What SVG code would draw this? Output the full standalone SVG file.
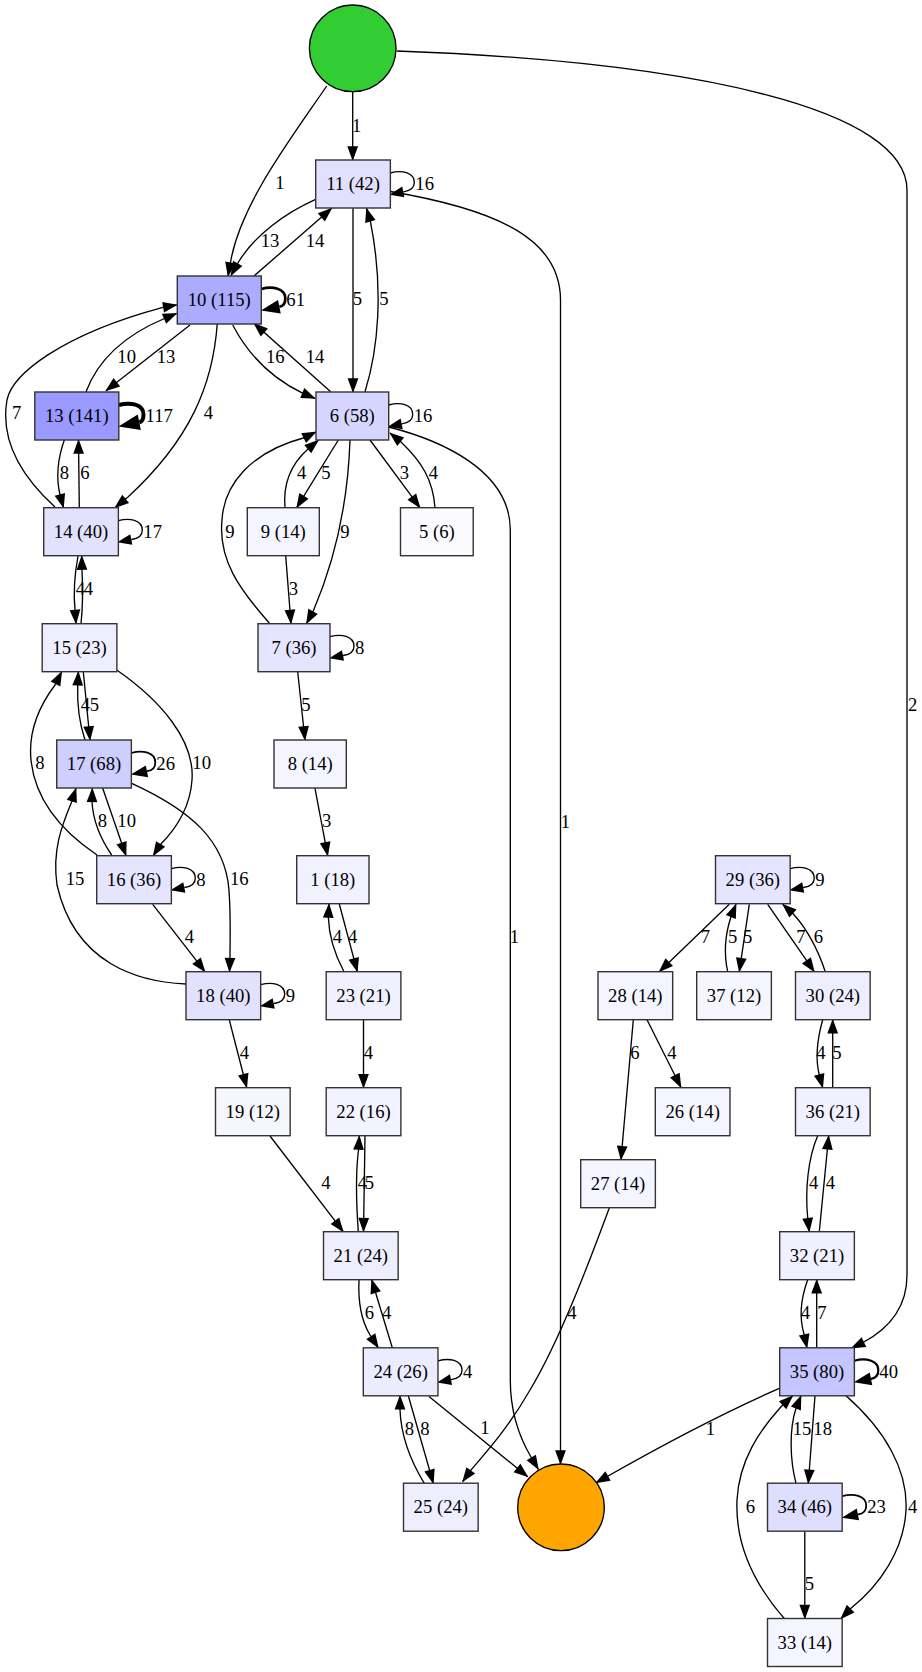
<svg xmlns="http://www.w3.org/2000/svg" width="922" height="1672" viewBox="0 0 922 1672">
<defs>
<style>
text { font-family: "Liberation Serif", "Times New Roman", serif; font-size: 18.67px; fill: #000; }
.node rect { stroke: #333; stroke-width: 1.4; }
.node circle { stroke: #000; stroke-width: 1.33; }
.node text { text-anchor: middle; }
.edge path { fill: none; stroke: #000; stroke-width: 1.33; marker-end: url(#ah); }
.edge text { text-anchor: middle; }
.loop path { fill: none; stroke: #000; stroke-width: 1.33; marker-end: url(#l1); }
.loop text { text-anchor: start; }
.loop.w2 path { stroke-width: 1.8; marker-end: url(#l2); }
.loop.w3 path { stroke-width: 2.2; marker-end: url(#l3); }
.loop.w4 path { stroke-width: 2.7; marker-end: url(#l4); }
.loop.w5 path { stroke-width: 4; marker-end: url(#l5); }
</style>
<!-- arrowheads: tip sits at the path end for ordinary edges, base sits at the path end for loops -->
<marker id="ah" markerUnits="userSpaceOnUse" orient="auto" refX="13.3" refY="0" markerWidth="15" markerHeight="12" overflow="visible"><path d="M-0.5,-5.4 L14.2,0 L-0.5,5.4 z" fill="#000"/></marker>
<marker id="l1" markerUnits="userSpaceOnUse" orient="auto" refX="0" refY="0" markerWidth="15" markerHeight="12" overflow="visible"><path d="M0,-5.4 L14.2,0 L0,5.4 z" fill="#000"/></marker>
<marker id="l2" markerUnits="userSpaceOnUse" orient="auto" refX="0" refY="0" markerWidth="17" markerHeight="13" overflow="visible"><path d="M0,-6 L16.5,0 L0,6 z" fill="#000"/></marker>
<marker id="l3" markerUnits="userSpaceOnUse" orient="auto" refX="0" refY="0" markerWidth="18" markerHeight="14" overflow="visible"><path d="M0,-6.5 L17.5,0 L0,6.5 z" fill="#000"/></marker>
<marker id="l4" markerUnits="userSpaceOnUse" orient="auto" refX="0" refY="0" markerWidth="19" markerHeight="15" overflow="visible"><path d="M0,-7 L18.8,0 L0,7 z" fill="#000"/></marker>
<marker id="l5" markerUnits="userSpaceOnUse" orient="auto" refX="0" refY="0" markerWidth="22" markerHeight="17" overflow="visible"><path d="M0,-8 L21.3,0 L0,8 z" fill="#000"/></marker>
</defs>
<rect x="0" y="0" width="922" height="1672" fill="#fff"/>

<!-- connectors -->
<g id="connectors">
<g class="edge" id="e_start_11"><path d="M352.7,91.6 L352.7,160"/><text x="356.7" y="132">1</text></g>
<g class="edge" id="e_start_10"><path d="M326.7,86 C290,140 240,205 230.5,262.5 L228,276"/><text x="280" y="189">1</text></g>
<g class="edge" id="e_start_35"><path d="M396.7,51 C700,62 907,110 907,190 L907,1275 C907,1305 892,1327 863,1342.5 L851.5,1348"/><text x="912.7" y="711">2</text></g>
<g class="edge" id="e_11_10"><path d="M315.7,199.3 C285,213 255,235 238.5,262 L231,275.5"/><text x="270" y="246.7">13</text></g>
<g class="edge" id="e_10_11"><path d="M254,276 L331.7,208.3"/><text x="315" y="246.7">14</text></g>
<g class="edge" id="e_11_6"><path d="M353,208.3 L353,392"/><text x="357.3" y="305.3">5</text></g>
<g class="edge" id="e_6_11"><path d="M365,391.7 C378,350 384,290 370.5,222 L366.5,208.3"/><text x="384" y="305.3">5</text></g>
<g class="edge" id="e_11_end"><path d="M390.3,191.5 C500,210 560.5,240 560.5,300 L560.5,1464"/><text x="565.3" y="827.7">1</text></g>
<g class="edge" id="e_10_13"><path d="M190,325 L106,390.7"/><text x="166" y="363.3">13</text></g>
<g class="edge" id="e_13_10"><path d="M86,391.7 C98,360 125,335 164.5,318.5 L176.7,313.3"/><text x="126.7" y="363.3">10</text></g>
<g class="edge" id="e_14_10"><path d="M55,507 C20,475 0,440 7,400 C12,375 60,335 163,307.3 L176.7,305"/><text x="16.7" y="419.3">7</text></g>
<g class="edge" id="e_10_14"><path d="M217.3,323.3 C213,385 190,440 128,497 L115,507.7"/><text x="208.3" y="419.3">4</text></g>
<g class="edge" id="e_10_6"><path d="M232.7,325 C250,358 275,380 303,393.3 L315,398.3"/><text x="275.3" y="363.3">16</text></g>
<g class="edge" id="e_6_10"><path d="M330.7,391.7 L254,323.3"/><text x="315" y="363.3">14</text></g>
<g class="edge" id="e_13_14"><path d="M64.3,440 C58,458 56,478 60,495 L63.5,507.7"/><text x="64.3" y="479.3">8</text></g>
<g class="edge" id="e_14_13"><path d="M79.3,507.7 L78.5,440"/><text x="85" y="479.3">6</text></g>
<g class="edge" id="e_9_6"><path d="M285,507.7 C283,485 290,465 308,449 L318.3,440.3"/><text x="301.7" y="479.3">4</text></g>
<g class="edge" id="e_6_9"><path d="M338.3,440 L296.7,507.7"/><text x="326" y="479.3">5</text></g>
<g class="edge" id="e_6_7"><path d="M350,440 C348,500 335,560 313.5,610.5 L306.5,623.5"/><text x="345" y="537.7">9</text></g>
<g class="edge" id="e_7_6"><path d="M269.3,623 C240,590 218,560 222,520 C224,485 250,452 305,437.5 L316,432"/><text x="230" y="537.7">9</text></g>
<g class="edge" id="e_6_5"><path d="M370,440 L420,507.7"/><text x="404.3" y="479.3">3</text></g>
<g class="edge" id="e_5_6"><path d="M435,507.7 C433,480 422,462 401,442 L390,433"/><text x="433.3" y="479.3">4</text></g>
<g class="edge" id="e_6_end"><path d="M388.7,427 C440,440 510.3,470 510.3,530 L510.3,1380 C510.3,1410 518,1435 531,1457 L538.3,1469.3"/><text x="514.3" y="942.7">1</text></g>
<g class="edge" id="e_14_15"><path d="M78,556 C74.5,575 73.5,595 75,610 L76,623.5"/><text x="80.5" y="595.3">4</text></g>
<g class="edge" id="e_15_14"><path d="M81,623.7 C83,605 83,590 82,570 L81.7,556"/><text x="88.5" y="595.3">4</text></g>
<g class="edge" id="e_9_7"><path d="M285.7,555.7 L291,623.5"/><text x="293.3" y="595.3">3</text></g>
<g class="edge" id="e_15_17"><path d="M83.3,671.7 L90,740"/><text x="94.3" y="711">5</text></g>
<g class="edge" id="e_17_15"><path d="M85,740 C80,725 77,705 77.7,685 L78.3,671.7"/><text x="85.5" y="711">4</text></g>
<g class="edge" id="e_16_15"><path d="M97,855 C60,830 35,800 31,760 C28,730 40,705 55,685 L61.7,671.7"/><text x="40" y="769.3">8</text></g>
<g class="edge" id="e_15_16"><path d="M116.7,670 C160,700 195,740 192,780 C190,810 175,830 160,845 L153.3,855.7"/><text x="201.7" y="769.3">10</text></g>
<g class="edge" id="e_7_8"><path d="M297.7,671.7 L305,740"/><text x="306" y="711">5</text></g>
<g class="edge" id="e_17_16"><path d="M102.7,788.3 L126,855.7"/><text x="126.7" y="826.7">10</text></g>
<g class="edge" id="e_16_17"><path d="M111.7,855 C100,838 93,820 92,801.7 L92.3,788.3"/><text x="102.3" y="826.7">8</text></g>
<g class="edge" id="e_18_17"><path d="M186,984 C140,982 75,965 57,885 C52,850 62,825 71.7,801.7 L76,788.3"/><text x="75" y="885.3">15</text></g>
<g class="edge" id="e_17_18"><path d="M131.7,783.3 C190,810 225,840 229,890 C231,920 230,940 230,958 L229.5,971.7"/><text x="239.3" y="885.3">16</text></g>
<g class="edge" id="e_8_1"><path d="M315,788.3 L327.7,855.7"/><text x="326.7" y="826.7">3</text></g>
<g class="edge" id="e_16_18"><path d="M152.7,904.3 L205,971.7"/><text x="189.3" y="942.7">4</text></g>
<g class="edge" id="e_23_1"><path d="M344,971.7 C335,955 329,938 328.3,916.7 L329,904"/><text x="337.3" y="942.7">4</text></g>
<g class="edge" id="e_1_23"><path d="M339.3,904 L357.3,971.7"/><text x="352.7" y="942.7">4</text></g>
<g class="edge" id="e_18_19"><path d="M229.3,1020 L246.7,1087.5"/><text x="244.3" y="1059.3">4</text></g>
<g class="edge" id="e_23_22"><path d="M363.5,1019.7 L363.5,1087.7"/><text x="368.3" y="1059.3">4</text></g>
<g class="edge" id="e_19_21"><path d="M270,1136 L343.3,1231.7"/><text x="326" y="1189.3">4</text></g>
<g class="edge" id="e_21_22"><path d="M358.3,1231.7 C356,1200 356,1170 358.5,1150 L359.3,1136"/><text x="362.3" y="1189.3">4</text></g>
<g class="edge" id="e_22_21"><path d="M365,1135.7 L363.5,1231.7"/><text x="369.3" y="1189.3">5</text></g>
<g class="edge" id="e_21_24"><path d="M359,1279.7 C358,1300 361,1320 370,1335 L378.3,1347.8"/><text x="369.3" y="1319.3">6</text></g>
<g class="edge" id="e_24_21"><path d="M392.3,1347.8 L371.7,1279.7"/><text x="386.7" y="1319.3">4</text></g>
<g class="edge" id="e_24_25"><path d="M408.3,1395.8 L433.3,1483.3"/><text x="425" y="1435.3">8</text></g>
<g class="edge" id="e_25_24"><path d="M424.3,1483.3 C410,1460 401,1435 400,1410 L400,1395.8"/><text x="409.3" y="1435.3">8</text></g>
<g class="edge" id="e_24_end"><path d="M429,1396.5 L527.7,1476.7"/><text x="485" y="1434.3">1</text></g>
<g class="edge" id="e_27_25"><path d="M609.3,1208 C590,1260 560,1340 530,1390 C510,1425 490,1448 471,1470 L462.7,1481.5"/><text x="572" y="1319.3">4</text></g>
<g class="edge" id="e_29_28"><path d="M729.3,904.3 L659.3,971.7"/><text x="705.3" y="942.7">7</text></g>
<g class="edge" id="e_37_29"><path d="M727.7,971.7 C724,955 725,935 731,916.7 L736,904.3"/><text x="732.7" y="942.7">5</text></g>
<g class="edge" id="e_29_37"><path d="M749.3,904.3 L739.3,971.7"/><text x="747.7" y="942.7">5</text></g>
<g class="edge" id="e_29_30"><path d="M767.7,904.3 L814.3,971.7"/><text x="801" y="942.7">7</text></g>
<g class="edge" id="e_30_29"><path d="M825.3,971.7 C818,950 808,930 792.7,913.3 L782.7,904.3"/><text x="818.3" y="942.7">6</text></g>
<g class="edge" id="e_28_27"><path d="M633.3,1019.7 L621,1159.7"/><text x="635" y="1059.3">6</text></g>
<g class="edge" id="e_28_26"><path d="M647,1019.7 L681,1087.5"/><text x="672" y="1059.3">4</text></g>
<g class="edge" id="e_30_36"><path d="M822.7,1019.7 C817,1040 815,1058 819.3,1075 L822.7,1087.7"/><text x="821" y="1059.3">4</text></g>
<g class="edge" id="e_36_30"><path d="M832.7,1087.7 L832.7,1019.7"/><text x="837" y="1059.3">5</text></g>
<g class="edge" id="e_36_32"><path d="M817.7,1135.7 C808,1158 805,1190 807.7,1218.3 L809.3,1231.7"/><text x="813.7" y="1189.3">4</text></g>
<g class="edge" id="e_32_36"><path d="M819.3,1231.7 L828.7,1135.7"/><text x="830.3" y="1189.3">4</text></g>
<g class="edge" id="e_32_35"><path d="M807.7,1279.7 C801,1298 799,1318 804.3,1335 L807,1347.8"/><text x="805.3" y="1319.3">4</text></g>
<g class="edge" id="e_35_32"><path d="M816.7,1347.8 L816.7,1279.7"/><text x="822" y="1319.3">7</text></g>
<g class="edge" id="e_35_end"><path d="M779.3,1388.3 C730,1410 680,1435 608,1476 L596,1482.7"/><text x="710.3" y="1435.3">1</text></g>
<g class="edge" id="e_34_35"><path d="M796,1483.3 C790,1460 789,1430 796,1408.3 L801,1395.8"/><text x="802" y="1435.3">15</text></g>
<g class="edge" id="e_35_34"><path d="M815,1395.8 L808.3,1483.3"/><text x="822.7" y="1435.3">18</text></g>
<g class="edge" id="e_33_35"><path d="M784.3,1618.5 C755,1585 735,1545 737,1500 C739,1460 760,1430 781,1406.7 L792.7,1395.8"/><text x="750.3" y="1512.7">6</text></g>
<g class="edge" id="e_35_33"><path d="M846,1395.8 C885,1430 908,1470 906,1510 C904,1550 880,1585 851,1608.3 L841,1618.5"/><text x="912.7" y="1512.7">4</text></g>
<g class="edge" id="e_34_33"><path d="M804.8,1531.2 L804.8,1618.5"/><text x="809.3" y="1590.3">5</text></g>

<!-- self loops -->
<g class="loop" id="e_11_11"><path d="M390.3,173 C401.3,170 414.3,172 414.3,182.5 C414.3,188 409.3,191 403.6,191.8 L403.3,191.86"/><text x="415.3" y="190">16</text></g>
<g class="loop w4" id="e_10_10"><path d="M261.3,289 C272.3,286 285.3,288 285.3,298.5 C285.3,304 283.3,306.2 279.7,306.7 L279.4,306.76"/><text x="286.3" y="306">61</text></g>
<g class="loop w5" id="e_13_13"><path d="M118.8,405 C130,402 143.5,404 143.5,414.5 C143.5,419.5 142,421.6 139.6,422.2 L139.3,422.26"/><text x="145.5" y="422">117</text></g>
<g class="loop" id="e_6_6"><path d="M388.7,405 C399.7,402 412.7,404 412.7,414.5 C412.7,420 407.7,423 402,423.8 L401.7,423.86"/><text x="413.7" y="422">16</text></g>
<g class="loop" id="e_14_14"><path d="M118.3,520.7 C129.3,517.7 142.3,519.7 142.3,530.2 C142.3,535.7 137.3,538.7 131.6,539.5 L131.3,539.56"/><text x="143.3" y="537.7">17</text></g>
<g class="loop" id="e_7_7"><path d="M330,636.7 C341,633.7 354,635.7 354,646.2 C354,651.7 349,654.7 343.3,655.5 L343,655.56"/><text x="355" y="653.7">8</text></g>
<g class="loop w2" id="e_17_17"><path d="M131.3,753 C142.3,750 155.3,752 155.3,762.5 C155.3,768 152.3,770.5 147.3,771.2 L147,771.26"/><text x="156.3" y="770">26</text></g>
<g class="loop" id="e_16_16"><path d="M171.3,868.7 C182.3,865.7 195.3,867.7 195.3,878.2 C195.3,883.7 190.3,886.7 184.6,887.5 L184.3,887.56"/><text x="196.3" y="885.7">8</text></g>
<g class="loop" id="e_18_18"><path d="M260.7,984.7 C271.7,981.7 284.7,983.7 284.7,994.2 C284.7,999.7 279.7,1002.7 274,1003.5 L273.7,1003.56"/><text x="285.7" y="1001.7">9</text></g>
<g class="loop" id="e_29_29"><path d="M790.2,868.7 C801.2,865.7 814.2,867.7 814.2,878.2 C814.2,883.7 809.2,886.7 803.5,887.5 L803.2,887.56"/><text x="815.2" y="885.7">9</text></g>
<g class="loop" id="e_24_24"><path d="M438,1360.8 C449,1357.8 462,1359.8 462,1370.3 C462,1375.8 457,1378.8 451.3,1379.6 L451,1379.66"/><text x="463" y="1377.8">4</text></g>
<g class="loop w3" id="e_35_35"><path d="M854.3,1360.8 C865.3,1357.8 878.3,1359.8 878.3,1370.3 C878.3,1375.8 875.3,1378.2 871.3,1378.8 L871,1378.86"/><text x="879.3" y="1377.8">40</text></g>
<g class="loop w2" id="e_34_34"><path d="M842.2,1496.2 C853.2,1493.2 866.2,1495.2 866.2,1505.7 C866.2,1511.2 863.2,1513.7 858.2,1514.4 L857.9,1514.46"/><text x="867.2" y="1513.2">23</text></g>
</g>

<!-- nodes -->
<g id="nodes">
<g class="node" id="start"><circle cx="352.7" cy="48.3" r="43.3" fill="#32cd32"/></g>
<g class="node" id="end"><circle cx="561" cy="1507.3" r="43.3" fill="#ffa500"/></g>
<g class="node" id="n11"><rect x="315.7" y="160" width="74.67" height="48" fill="#e1e1ff"/><text x="353" y="190">11 (42)</text></g>
<g class="node" id="n10"><rect x="177.3" y="276" width="84" height="48" fill="#acacff"/><text x="219.3" y="306">10 (115)</text></g>
<g class="node" id="n6"><rect x="316" y="392" width="72.7" height="48" fill="#d5d5ff"/><text x="352.3" y="422">6 (58)</text></g>
<g class="node" id="n13"><rect x="34.8" y="392" width="84" height="48" fill="#9999ff"/><text x="76.8" y="422">13 (141)</text></g>
<g class="node" id="n14"><rect x="43.7" y="507.7" width="74.67" height="48" fill="#e2e2ff"/><text x="81" y="537.7">14 (40)</text></g>
<g class="node" id="n9"><rect x="247.3" y="507.7" width="72" height="48" fill="#f5f5ff"/><text x="283.3" y="537.7">9 (14)</text></g>
<g class="node" id="n5"><rect x="400.5" y="507.7" width="72.7" height="48" fill="#fbfbff"/><text x="436.8" y="537.7">5 (6)</text></g>
<g class="node" id="n15"><rect x="42.2" y="623.7" width="74.67" height="48" fill="#eeeeff"/><text x="79.5" y="653.7">15 (23)</text></g>
<g class="node" id="n7"><rect x="258" y="623.7" width="72" height="48" fill="#e5e5ff"/><text x="294" y="653.7">7 (36)</text></g>
<g class="node" id="n17"><rect x="56.7" y="740" width="74.67" height="48" fill="#ceceff"/><text x="94" y="770">17 (68)</text></g>
<g class="node" id="n8"><rect x="274" y="740" width="72.3" height="48" fill="#f5f5ff"/><text x="310.2" y="770">8 (14)</text></g>
<g class="node" id="n16"><rect x="96.7" y="855.7" width="74.67" height="48" fill="#e5e5ff"/><text x="134" y="885.7">16 (36)</text></g>
<g class="node" id="n1"><rect x="296.7" y="855.7" width="72.3" height="48" fill="#f2f2ff"/><text x="332.8" y="885.7">1 (18)</text></g>
<g class="node" id="n29"><rect x="715.5" y="855.7" width="74.67" height="48" fill="#e5e5ff"/><text x="752.8" y="885.7">29 (36)</text></g>
<g class="node" id="n18"><rect x="186" y="971.7" width="74.67" height="48" fill="#e2e2ff"/><text x="223.3" y="1001.7">18 (40)</text></g>
<g class="node" id="n23"><rect x="326.2" y="971.7" width="74.67" height="48" fill="#f0f0ff"/><text x="363.5" y="1001.7">23 (21)</text></g>
<g class="node" id="n28"><rect x="598" y="971.7" width="74.67" height="48" fill="#f5f5ff"/><text x="635.3" y="1001.7">28 (14)</text></g>
<g class="node" id="n37"><rect x="696.7" y="971.7" width="74.67" height="48" fill="#f6f6ff"/><text x="734" y="1001.7">37 (12)</text></g>
<g class="node" id="n30"><rect x="795.5" y="971.7" width="74.67" height="48" fill="#eeeeff"/><text x="832.8" y="1001.7">30 (24)</text></g>
<g class="node" id="n19"><rect x="215.5" y="1087.7" width="74.67" height="48" fill="#f6f6ff"/><text x="252.8" y="1117.7">19 (12)</text></g>
<g class="node" id="n22"><rect x="326.2" y="1087.7" width="74.67" height="48" fill="#f3f3ff"/><text x="363.5" y="1117.7">22 (16)</text></g>
<g class="node" id="n26"><rect x="655.3" y="1087.7" width="74.67" height="48" fill="#f5f5ff"/><text x="692.7" y="1117.7">26 (14)</text></g>
<g class="node" id="n36"><rect x="795.5" y="1087.7" width="74.67" height="48" fill="#f0f0ff"/><text x="832.8" y="1117.7">36 (21)</text></g>
<g class="node" id="n27"><rect x="580.7" y="1159.7" width="74.67" height="48" fill="#f5f5ff"/><text x="618" y="1189.7">27 (14)</text></g>
<g class="node" id="n21"><rect x="323.5" y="1231.7" width="74.67" height="48" fill="#eeeeff"/><text x="360.8" y="1261.7">21 (24)</text></g>
<g class="node" id="n32"><rect x="779.7" y="1231.7" width="74.67" height="48" fill="#f0f0ff"/><text x="817" y="1261.7">32 (21)</text></g>
<g class="node" id="n24"><rect x="363.3" y="1347.8" width="74.67" height="48" fill="#ececff"/><text x="400.7" y="1377.8">24 (26)</text></g>
<g class="node" id="n35"><rect x="779.7" y="1347.8" width="74.67" height="48" fill="#c5c5ff"/><text x="817" y="1377.8">35 (80)</text></g>
<g class="node" id="n25"><rect x="403.5" y="1483.2" width="74.67" height="48" fill="#eeeeff"/><text x="440.8" y="1513.2">25 (24)</text></g>
<g class="node" id="n34"><rect x="767.5" y="1483.2" width="74.67" height="48" fill="#dedeff"/><text x="804.8" y="1513.2">34 (46)</text></g>
<g class="node" id="n33"><rect x="767.5" y="1618.5" width="74.67" height="48" fill="#f5f5ff"/><text x="804.8" y="1648.5">33 (14)</text></g>
</g>
</svg>
